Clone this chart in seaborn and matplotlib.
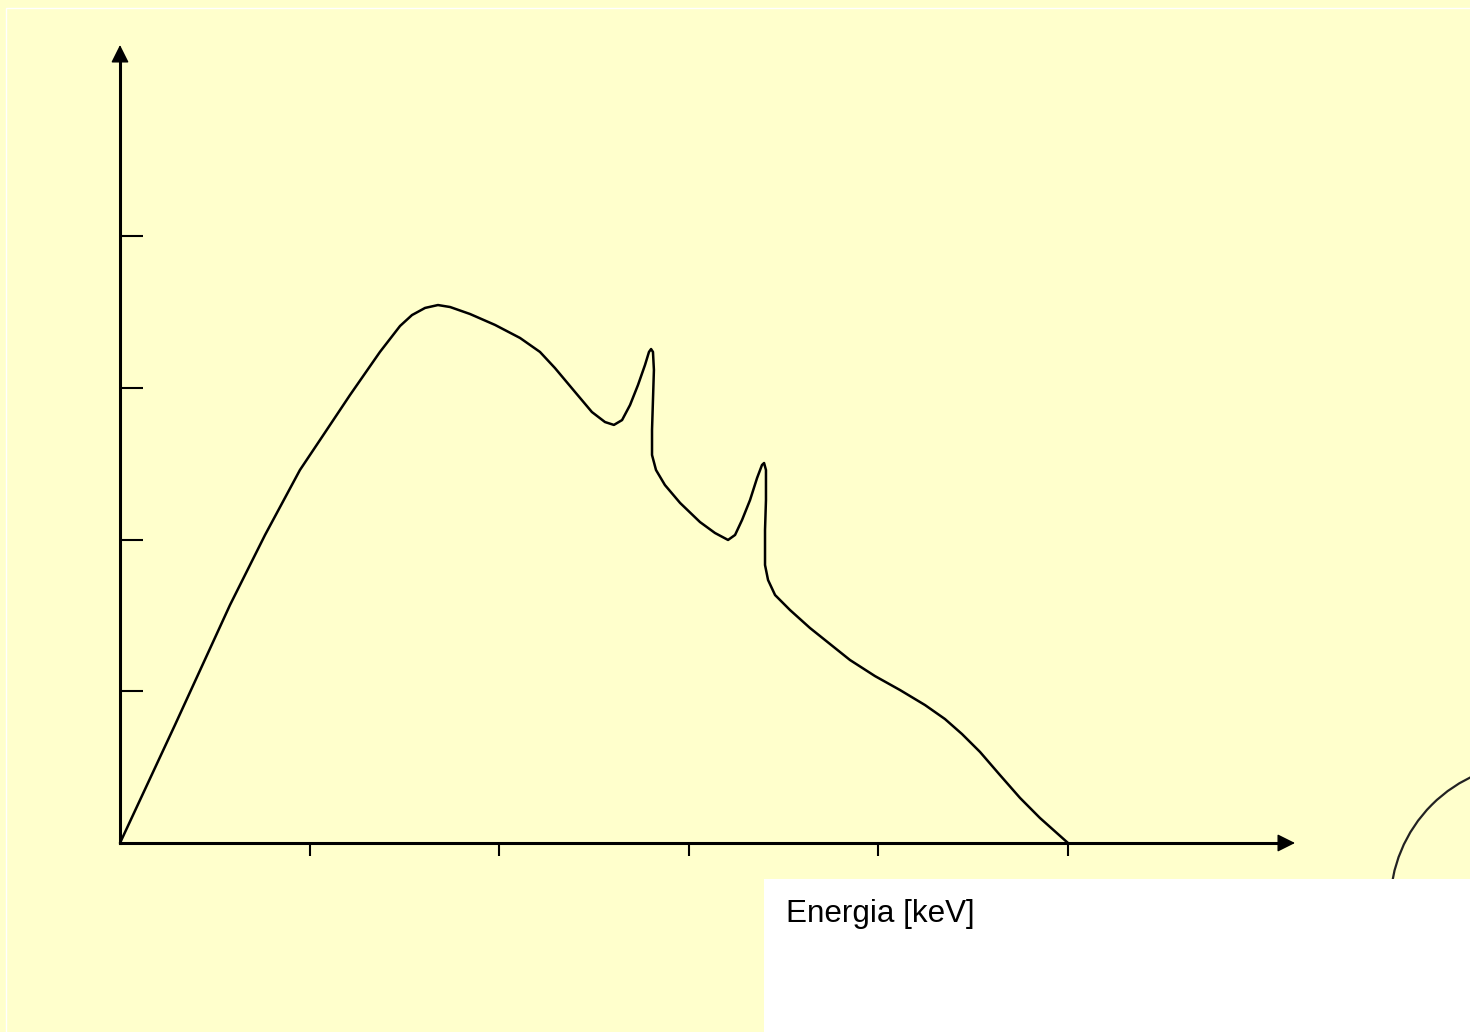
import matplotlib
matplotlib.use("Agg")
import matplotlib.pyplot as plt
import seaborn as sns
import pandas as pd
from matplotlib.patches import Rectangle, Circle

# ---- data (in axis units: x tick step = 1, y tick step = 1) ----
energy = [0.000, 0.290, 0.580, 0.765, 0.949, 1.055, 1.213, 1.371, 1.477, 1.540,
          1.609, 1.677, 1.741, 1.846, 1.978, 2.110, 2.215, 2.294, 2.400, 2.489,
          2.558, 2.605, 2.648, 2.690, 2.732, 2.769, 2.790, 2.801, 2.811, 2.816,
          2.811, 2.806, 2.806, 2.827, 2.874, 2.954, 3.059, 3.138, 3.207, 3.244,
          3.281, 3.323, 3.360, 3.386, 3.397, 3.407, 3.407, 3.402, 3.402, 3.418,
          3.455, 3.534, 3.639, 3.745, 3.850, 3.982, 4.114, 4.246, 4.351, 4.441,
          4.536, 4.641, 4.747, 4.852, 5.000]
intensity = [0.000, 0.778, 1.568, 2.030, 2.458, 2.656, 2.952, 3.236, 3.407, 3.479,
             3.526, 3.545, 3.532, 3.486, 3.414, 3.328, 3.236, 3.130, 2.972, 2.840,
             2.774, 2.755, 2.787, 2.886, 3.018, 3.150, 3.236, 3.255, 3.236, 3.117,
             2.919, 2.722, 2.557, 2.458, 2.359, 2.241, 2.115, 2.043, 1.997, 2.030,
             2.129, 2.260, 2.405, 2.491, 2.504, 2.458, 2.260, 2.063, 1.832, 1.733,
             1.634, 1.535, 1.417, 1.311, 1.206, 1.100, 1.008, 0.909, 0.817, 0.718,
             0.600, 0.448, 0.297, 0.165, 0.000]
x_ticks = [1, 2, 3, 4, 5]
y_ticks = [1, 2, 3, 4]
xlabel = "Energia [keV]"

df = pd.DataFrame({"energy": energy, "intensity": intensity})

sns.set_theme(style="white")
plt.rcParams["font.family"] = ["Liberation Sans", "DejaVu Sans"]

BG = "#FFFFCC"
W, H, DPI = 1470, 1032, 100
fig = plt.figure(figsize=(W / DPI, H / DPI), dpi=DPI, facecolor=BG)
ax = fig.add_axes([0, 0, 1, 1])
ax.set_facecolor("none")

# pixel mapping: origin at (120, 843), x unit 189.6 px, y unit 151.75 px
xu, yu = 189.6, 151.75
ax.set_xlim(-120 / xu, (W - 120) / xu)
ax.set_ylim((843 - H) / yu, 843 / yu)

sns.lineplot(data=df, x="energy", y="intensity", sort=False, estimator=None,
             color="black", lw=1.8, ax=ax,
             solid_joinstyle="round", solid_capstyle="round")

# axes
for s in ["top", "right"]:
    ax.spines[s].set_visible(False)
ax.spines["left"].set_position(("data", 0))
ax.spines["bottom"].set_position(("data", 0))
ax.spines["left"].set_bounds(0, (843 - 60) / yu)
ax.spines["bottom"].set_bounds(0, (1282 - 120) / xu)
for s in ["left", "bottom"]:
    ax.spines[s].set_linewidth(2.2)
    ax.spines[s].set_color("black")
    ax.spines[s].set_zorder(3)

ax.set_xticks(x_ticks)
ax.set_yticks(y_ticks)
ax.set_xticklabels([])
ax.set_yticklabels([])
ax.tick_params(axis="x", direction="out", length=9.5, width=1.5, color="black",
               bottom=True)
ax.tick_params(axis="y", direction="in", length=16.5, width=1.5, color="black",
               left=True)
ax.set_xlabel("")
ax.set_ylabel("")
ax.grid(False)

# arrow heads
arrow_kw = dict(arrowstyle="-|>,head_length=1.1,head_width=0.55",
                mutation_scale=10, lw=1, color="black",
                shrinkA=0, shrinkB=0)
ax.annotate("", xy=((1295 - 120) / xu, 0), xytext=((1270 - 120) / xu, 0),
            arrowprops=arrow_kw)
ax.annotate("", xy=(0, (843 - 45) / yu), xytext=(0, (843 - 70) / yu),
            arrowprops=arrow_kw)

# decorative frame line, circle and white box
fig.patches.append(Rectangle((6 / W, -0.01), 1.1, (H - 8) / H + 0.01,
                             transform=fig.transFigure, fill=False,
                             edgecolor="white", lw=1, zorder=0))
fig.patches.append(Circle((15.32, 1.27), 1.417, transform=fig.dpi_scale_trans,
                          fill=False, edgecolor="#222222", lw=1.6, zorder=1))
fig.patches.append(Rectangle((764 / W, 0), 1 - 764 / W, (H - 879) / H,
                             transform=fig.transFigure, facecolor="white",
                             edgecolor="none", zorder=2))
fig.text(786 / W, 1 - 914 / H, xlabel, fontsize=22.6, color="black",
         ha="left", va="center", zorder=3)

fig.savefig("out.png", dpi=DPI, facecolor=BG)
